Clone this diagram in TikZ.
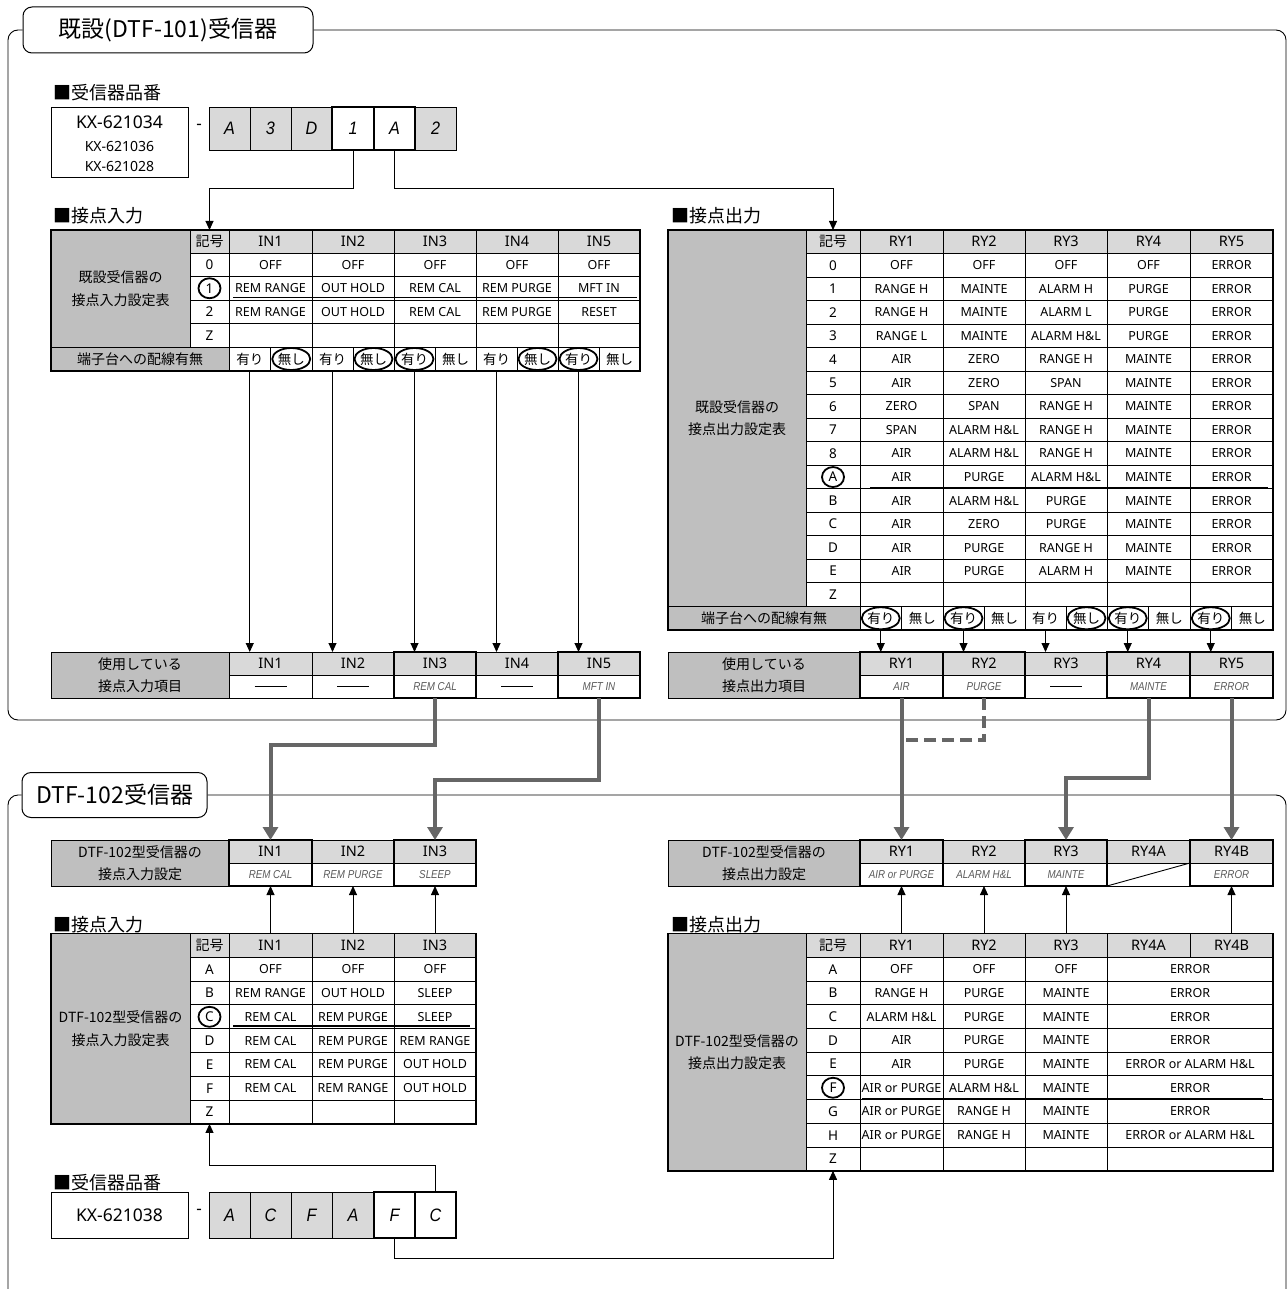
\documentclass[tikz,border=0pt]{standalone}
\usepackage{fontspec}
\setmainfont{Noto Sans}
\newfontfamily\jp{Noto Sans CJK JP}
\newfontfamily\nit{Liberation Sans}[FakeStretch=0.85]
\newfontfamily\cod{Liberation Sans}[FakeStretch=0.9]
\usetikzlibrary{arrows.meta}
\definecolor{dgr}{HTML}{BFBFBF}
\definecolor{lgr}{HTML}{D9D9D9}
\definecolor{cgr}{HTML}{666666}
\definecolor{tgr}{HTML}{595959}
\newcommand\fs[1]{\fontsize{#1}{#1}\selectfont}
\newcommand\tcel[7]{%
  \pgfmathsetmacro\tcW{#4-#2}%
  \pgfmathsetmacro\tcH{#5-#3}%
  \node[tcell,minimum width=\tcW pt,minimum height=\tcH pt,#6] (#1) at ({(#2+#4)/2},{(#3+#5)/2}) {#7};}
\tikzset{
 tcell/.style={draw,inner sep=0pt,outer sep=0pt,line width=0.9pt,align=center,font=\fs{12.5}},
 dat/.style={font=\fs{12.5}},
 kg/.style={font=\fs{13.5}},
 hdr/.style={fill=lgr,font=\fs{14.5}},
 jhdr/.style={fill=lgr,font=\jp\fs{14}},
 gblk/.style={fill=dgr,font=\jp\fontsize{14}{22.5}\selectfont},
 yn/.style={font=\jp\fs{13.5}},
 itv/.style={font=\nit\itshape\fs{11.5},text=tgr},
 codeg/.style={fill=lgr,font=\cod\itshape\fs{18}},
 codew/.style={fill=white,line width=1.8pt,font=\cod\itshape\fs{18}},
 titlebox/.style={draw,rounded corners=9pt,fill=white,line width=1pt,inner sep=0pt,font=\jp\fs{23}},
 frame/.style={line width=0.9pt,rounded corners=10pt},
 lbl/.style={anchor=west,inner sep=0pt,font=\jp\fs{18}},
 arr/.style={line width=0.9pt,-{Triangle[width=8pt,length=9pt]}},
 conn/.style={draw=cgr,line width=4pt,-{Triangle[width=15pt,length=13pt]}},
 sel/.style={line width=1.8pt},
 thk/.style={line width=1.8pt},
 uline/.style={line width=1.5pt},
 outerb/.style={line width=1.5pt},
 dashln/.style={line width=1.6pt},
}
\begin{document}
\begin{tikzpicture}[x=1pt,y=-1pt]
\useasboundingbox (0,0) rectangle (1287,1289);

% ================= Section 1 =================
\node[titlebox,minimum width=290pt,minimum height=46pt] (t1) at (168,30) {既設(DTF-101)受信器};
\draw[frame] (t1.east) -- (1286,30) -- (1286,720) -- (8,720) -- (8,30) -- (t1.west);

% part number 1
\node[lbl] (pl1) at (53,93) {■受信器品番};
\node[draw,line width=0.9pt,minimum width=137pt,minimum height=70pt,inner sep=0pt] (pn1) at (119.5,142) {};
\node[font=\fs{17.5}] (pn1a) at (119.5,122) {KX-621034};
\node[font=\fs{14}] (pn1b) at (119.5,146) {KX-621036};
\node[font=\fs{14}] (pn1c) at (119.5,166) {KX-621028};
\node[font=\fs{17}] (dash1) at (199,127) {-};
\tcel{p1a}{209}{107}{250}{150}{codeg}{A}
\tcel{p1b}{250}{107}{291}{150}{codeg}{3}
\tcel{p1c}{291}{107}{332}{150}{codeg}{D}
\tcel{p1f}{415}{107}{456}{150}{codeg}{2}
\tcel{p1d}{332}{107}{374}{150}{codew}{1}
\tcel{p1e}{374}{107}{415}{150}{codew}{A}

% contact input table 1
\node[lbl] (il1) at (53,216) {■接点入力};
\tcel{ig}{51}{230}{190}{347}{gblk}{既設受信器の\\接点入力設定表}
\tcel{ik0}{190}{230}{229}{253}{jhdr}{記号}
\foreach \q/\xa/\xb in {1/229/312,2/312/394,3/394/476,4/476/558,5/558/640}{
  \tcel{ih\q}{\xa}{230}{\xb}{253}{hdr}{IN\q}}
\foreach \kk/\vs/\va/\vb/\vc/\vd/\ve in {0/0/OFF/OFF/OFF/OFF/OFF,
  1/1/REM RANGE/OUT HOLD/REM CAL/REM PURGE/MFT IN,
  2/2/REM RANGE/OUT HOLD/REM CAL/REM PURGE/RESET,
  3/Z/{}/{}/{}/{}/{}}{
  \pgfmathsetmacro\ya{253+23.5*\kk}\pgfmathsetmacro\yb{\ya+23.5}
  \tcel{is\kk}{190}{\ya}{229}{\yb}{kg}{\vs}
  \tcel{ia\kk}{229}{\ya}{312}{\yb}{dat}{\va}
  \tcel{ib\kk}{312}{\ya}{394}{\yb}{dat}{\vb}
  \tcel{ic\kk}{394}{\ya}{476}{\yb}{dat}{\vc}
  \tcel{id\kk}{476}{\ya}{558}{\yb}{dat}{\vd}
  \tcel{ie\kk}{558}{\ya}{640}{\yb}{dat}{\ve}}
\tcel{it}{51}{347}{229}{371}{gblk}{端子台への配線有無}
\foreach \q/\xa/\xm/\xb in {1/229/270.5/312,2/312/353/394,3/394/435/476,4/476/517/558,5/558/599/640}{
  \tcel{iy\q}{\xa}{347}{\xm}{371}{yn}{有り}
  \tcel{in\q}{\xm}{347}{\xb}{371}{yn}{無し}}
\draw[outerb] (ig.north west) rectangle (in5.south east);
\foreach \nm in {in1,in2,iy3,in4,iy5}{
  \draw[sel] (\nm.center) ellipse [x radius=19pt,y radius=11pt];}
\draw[sel] (is1.center) ellipse [x radius=11pt,y radius=10pt];
\draw[uline] (233,297.5) -- (637,297.5);

% used input items 1
\tcel{ug}{51}{652}{229}{698}{gblk}{使用している\\接点入力項目}
\foreach \q/\xa/\xb in {1/229/312,2/312/394,3/394/476,4/476/558,5/558/640}{
  \tcel{uh\q}{\xa}{652}{\xb}{675}{hdr}{IN\q}}
\tcel{uv1}{229}{675}{312}{698}{dat}{}
\tcel{uv2}{312}{675}{394}{698}{dat}{}
\tcel{uv3}{394}{675}{476}{698}{itv}{REM CAL}
\tcel{uv4}{476}{675}{558}{698}{dat}{}
\tcel{uv5}{558}{675}{640}{698}{itv}{MFT IN}
\foreach \nm in {uv1,uv2,uv4}{
  \draw[dashln] ([xshift=-16pt]\nm.center) -- ([xshift=16pt]\nm.center);}
\draw[thk] (uh3.north west) rectangle (uv3.south east);
\draw[thk] (uh5.north west) rectangle (uv5.south east);
\foreach \q in {1,...,5}{\draw[arr] (iy\q.south) -- (iy\q.south |- uh\q.north);}

% contact output table 1
\node[lbl] (ol1) at (671,216) {■接点出力};
\tcel{og}{668}{230}{806}{606.5}{gblk}{既設受信器の\\接点出力設定表}
\tcel{ok0}{806}{230}{860}{253.5}{jhdr}{記号}
\foreach \q/\xa/\xb in {1/860/943,2/943/1025,3/1025/1107,4/1107/1190,5/1190/1273}{
  \tcel{oh\q}{\xa}{230}{\xb}{253.5}{hdr}{RY\q}}
\foreach \kk/\vs/\va/\vb/\vc/\vd/\ve in {
  0/0/OFF/OFF/OFF/OFF/ERROR,
  1/1/RANGE H/MAINTE/ALARM H/PURGE/ERROR,
  2/2/RANGE H/MAINTE/ALARM L/PURGE/ERROR,
  3/3/RANGE L/MAINTE/ALARM H\&L/PURGE/ERROR,
  4/4/AIR/ZERO/RANGE H/MAINTE/ERROR,
  5/5/AIR/ZERO/SPAN/MAINTE/ERROR,
  6/6/ZERO/SPAN/RANGE H/MAINTE/ERROR,
  7/7/SPAN/ALARM H\&L/RANGE H/MAINTE/ERROR,
  8/8/AIR/ALARM H\&L/RANGE H/MAINTE/ERROR,
  9/A/AIR/PURGE/ALARM H\&L/MAINTE/ERROR,
  10/B/AIR/ALARM H\&L/PURGE/MAINTE/ERROR,
  11/C/AIR/ZERO/PURGE/MAINTE/ERROR,
  12/D/AIR/PURGE/RANGE H/MAINTE/ERROR,
  13/E/AIR/PURGE/ALARM H/MAINTE/ERROR,
  14/Z/{}/{}/{}/{}/{}}{
  \pgfmathsetmacro\ya{253.5+23.53*\kk}\pgfmathsetmacro\yb{\ya+23.53}
  \tcel{os\kk}{806}{\ya}{860}{\yb}{kg}{\vs}
  \tcel{oa\kk}{860}{\ya}{943}{\yb}{dat}{\va}
  \tcel{ob\kk}{943}{\ya}{1025}{\yb}{dat}{\vb}
  \tcel{oc\kk}{1025}{\ya}{1107}{\yb}{dat}{\vc}
  \tcel{od\kk}{1107}{\ya}{1190}{\yb}{dat}{\vd}
  \tcel{oe\kk}{1190}{\ya}{1273}{\yb}{dat}{\ve}}
\tcel{ot}{668}{606.5}{860}{630}{gblk}{端子台への配線有無}
\foreach \q/\xa/\xm/\xb in {1/860/901.5/943,2/943/984/1025,3/1025/1066/1107,4/1107/1148.5/1190,5/1190/1231.5/1273}{
  \tcel{oy\q}{\xa}{606.5}{\xm}{630}{yn}{有り}
  \tcel{on\q}{\xm}{606.5}{\xb}{630}{yn}{無し}}
\draw[outerb] (og.north west) rectangle (on5.south east);
\foreach \nm in {oy1,oy2,on3,oy4,oy5}{
  \draw[sel] (\nm.center) ellipse [x radius=19pt,y radius=11pt];}
\draw[sel] (os9.center) ellipse [x radius=11pt,y radius=10pt];
\draw[uline] (870,487.5) -- (1268,487.5);

% used output items 1
\tcel{wg}{668}{652}{860}{698}{gblk}{使用している\\接点出力項目}
\foreach \q/\xa/\xb in {1/860/943,2/943/1025,3/1025/1107,4/1107/1190,5/1190/1273}{
  \tcel{wh\q}{\xa}{652}{\xb}{675}{hdr}{RY\q}}
\tcel{wv1}{860}{675}{943}{698}{itv}{AIR}
\tcel{wv2}{943}{675}{1025}{698}{itv}{PURGE}
\tcel{wv3}{1025}{675}{1107}{698}{dat}{}
\tcel{wv4}{1107}{675}{1190}{698}{itv}{MAINTE}
\tcel{wv5}{1190}{675}{1273}{698}{itv}{ERROR}
\draw[dashln] ([xshift=-16pt]wv3.center) -- ([xshift=16pt]wv3.center);
\foreach \q in {1,2,4,5}{\draw[thk] (wh\q.north west) rectangle (wv\q.south east);}
\foreach \q in {1,...,5}{\draw[arr] (oy\q.south) -- (oy\q.south |- wh\q.north);}

% connectors from part number 1
\draw[arr] (p1d.south) -- ++(0,38) -| (ik0.north);
\draw[arr] (p1e.south) -- ++(0,38) -| (ok0.north);

% ================= Section 2 =================
\node[titlebox,minimum width=185pt,minimum height=45pt] (t2) at (114.5,795) {DTF-102受信器};
\draw[frame] (t2.east) -- (1286,795) -- (1286,1300);
\draw[frame] (t2.west) -- (8,795) -- (8,1300);

% DTF-102 input setting
\tcel{dg}{51}{840}{229}{886}{gblk}{DTF-102型受信器の\\接点入力設定}
\foreach \q/\xa/\xb/\vv in {1/229/312/REM CAL,2/312/394/REM PURGE,3/394/476/SLEEP}{
  \tcel{dh\q}{\xa}{840}{\xb}{863}{hdr}{IN\q}
  \tcel{dv\q}{\xa}{863}{\xb}{886}{itv}{\vv}}
\foreach \q in {1,3}{\draw[thk] (dh\q.north west) rectangle (dv\q.south east);}

% DTF-102 output setting
\tcel{eg}{668}{840}{860}{886}{gblk}{DTF-102型受信器の\\接点出力設定}
\foreach \q/\xa/\xb/\hh/\vv in {1/860/943/RY1/AIR or PURGE,2/943/1025/RY2/ALARM H\&L,3/1025/1107/RY3/MAINTE,4/1107/1190/RY4A/{},5/1190/1273/RY4B/ERROR}{
  \tcel{eh\q}{\xa}{840}{\xb}{863}{hdr}{\hh}
  \tcel{ev\q}{\xa}{863}{\xb}{886}{itv}{\vv}}
\draw[line width=0.9pt] (ev4.south west) -- (ev4.north east);
\foreach \q in {1,3,5}{\draw[thk] (eh\q.north west) rectangle (ev\q.south east);}

% thick connectors between sections
\draw[conn] (uv3.south) -- ++(0,47) -| (dh1.north);
\draw[conn] (uv5.south) -- ++(0,82) -| (dh3.north);
\draw[conn] (wv1.south) -- (eh1.north);
\coordinate (j1) at (901.5,740);
\draw[draw=cgr,line width=4pt,dash pattern=on 12pt off 6pt] (wv2.south) |- (j1);
\draw[conn] (wv4.south) -- ++(0,80) -| (eh3.north);
\draw[conn] (wv5.south) -- (eh5.north);

% lower input table
\node[lbl] (il2) at (53,925) {■接点入力};
\tcel{lg}{51}{933.5}{190}{1124}{gblk}{DTF-102型受信器の\\接点入力設定表}
\tcel{lk0}{190}{933.5}{229}{957.3}{jhdr}{記号}
\foreach \q/\xa/\xb in {1/229/312,2/312/394,3/394/476}{
  \tcel{lh\q}{\xa}{933.5}{\xb}{957.3}{hdr}{IN\q}}
\foreach \kk/\vs/\va/\vb/\vc in {0/A/OFF/OFF/OFF,
  1/B/REM RANGE/OUT HOLD/SLEEP,
  2/C/REM CAL/REM PURGE/SLEEP,
  3/D/REM CAL/REM PURGE/REM RANGE,
  4/E/REM CAL/REM PURGE/OUT HOLD,
  5/F/REM CAL/REM RANGE/OUT HOLD,
  6/Z/{}/{}/{}}{
  \pgfmathsetmacro\ya{957.3+23.8*\kk}\pgfmathsetmacro\yb{\ya+23.8}
  \tcel{ls\kk}{190}{\ya}{229}{\yb}{kg}{\vs}
  \tcel{la\kk}{229}{\ya}{312}{\yb}{dat}{\va}
  \tcel{lb\kk}{312}{\ya}{394}{\yb}{dat}{\vb}
  \tcel{lc\kk}{394}{\ya}{476}{\yb}{dat}{\vc}}
\draw[outerb] (lg.north west) rectangle (lc6.south east);
\draw[sel] (ls2.center) ellipse [x radius=11pt,y radius=10pt];
\draw[uline] (233,1026) -- (470,1026);
\foreach \q in {1,2,3}{\draw[arr] (lh\q.north) -- (dv\q.south);}

% lower output table
\node[lbl] (ol2) at (671,925) {■接点出力};
\tcel{mg}{668}{933.5}{806}{1171}{gblk}{DTF-102型受信器の\\接点出力設定表}
\tcel{mk0}{806}{933.5}{860}{957.3}{jhdr}{記号}
\foreach \q/\xa/\xb/\hh in {1/860/943/RY1,2/943/1025/RY2,3/1025/1107/RY3,4/1107/1190/RY4A,5/1190/1273/RY4B}{
  \tcel{mh\q}{\xa}{933.5}{\xb}{957.3}{hdr}{\hh}}
\foreach \kk/\vs/\va/\vb/\vc/\vd in {0/A/OFF/OFF/OFF/ERROR,
  1/B/RANGE H/PURGE/MAINTE/ERROR,
  2/C/ALARM H\&L/PURGE/MAINTE/ERROR,
  3/D/AIR/PURGE/MAINTE/ERROR,
  4/E/AIR/PURGE/MAINTE/ERROR or ALARM H\&L,
  5/F/AIR or PURGE/ALARM H\&L/MAINTE/ERROR,
  6/G/AIR or PURGE/RANGE H/MAINTE/ERROR,
  7/H/AIR or PURGE/RANGE H/MAINTE/ERROR or ALARM H\&L,
  8/Z/{}/{}/{}/{}}{
  \pgfmathsetmacro\ya{957.3+23.72*\kk}\pgfmathsetmacro\yb{\ya+23.72}
  \tcel{ms\kk}{806}{\ya}{860}{\yb}{kg}{\vs}
  \tcel{ma\kk}{860}{\ya}{943}{\yb}{dat}{\va}
  \tcel{mb\kk}{943}{\ya}{1025}{\yb}{dat}{\vb}
  \tcel{mc\kk}{1025}{\ya}{1107}{\yb}{dat}{\vc}
  \tcel{md\kk}{1107}{\ya}{1273}{\yb}{dat}{\vd}}
\draw[outerb] (mg.north west) rectangle (md8.south east);
\draw[sel] (ms5.center) ellipse [x radius=11pt,y radius=10pt];
\draw[uline] (862,1098.5) -- (1263,1098.5);
\foreach \q in {1,2,3,5}{\draw[arr] (mh\q.north) -- (ev\q.south);}

% part number 2
\node[lbl] (pl2) at (53,1183) {■受信器品番};
\tcel{pn2}{51}{1192}{188}{1238}{font=\fs{17.5}}{KX-621038}
\node[font=\fs{17}] (dash2) at (199,1212) {-};
\tcel{p2a}{209}{1192}{250}{1238}{codeg}{A}
\tcel{p2b}{250}{1192}{291}{1238}{codeg}{C}
\tcel{p2c}{291}{1192}{332}{1238}{codeg}{F}
\tcel{p2d}{332}{1192}{374}{1238}{codeg}{A}
\tcel{p2e}{374}{1192}{415}{1238}{codew}{F}
\tcel{p2f}{415}{1192}{456}{1238}{codew}{C}
\draw[arr] (p2f.north) -- ++(0,-27) -| (ls6.south);
\draw[arr] (p2e.south) -- ++(0,20) -| (ms8.south);
\end{tikzpicture}
\end{document}
